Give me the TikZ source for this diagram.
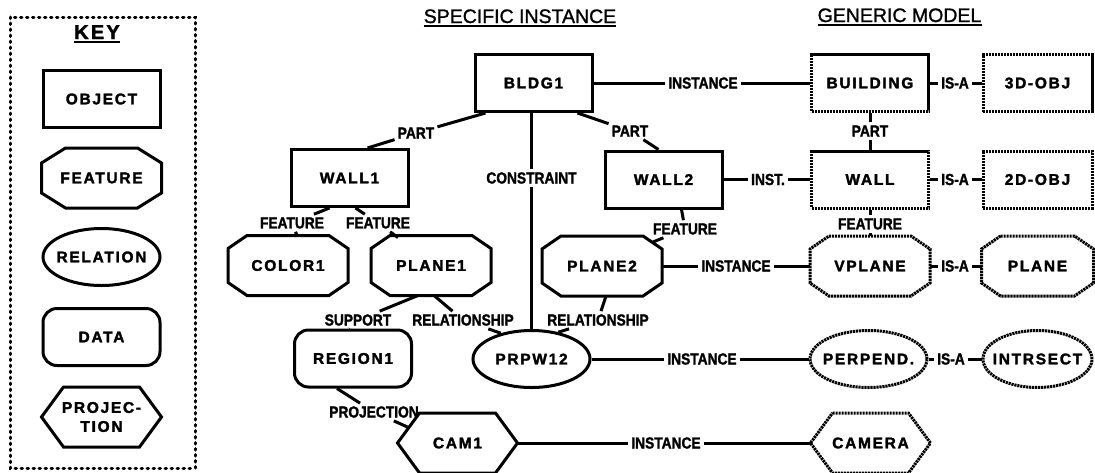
\documentclass[tikz,border=0pt]{standalone}
\usepackage{fontspec}
\usetikzlibrary{shapes.geometric}
\setmainfont{Liberation Sans}
\newfontfamily\nodefont{Liberation Sans}[LetterSpace=11,FakeBold=2]
\newfontfamily\lblfont{Liberation Sans}[FakeStretch=0.86,FakeBold=1.5]
\newfontfamily\titlefont{Liberation Sans}[FakeBold=1.2]
\newcommand\ctext[1]{\makebox[0pt]{#1}}
% octagon frame: [opts]{node}{x chamfer}{y chamfer}
\newcommand\octframe[4][]{\draw[line width=3pt,#1]
  ([xshift=#3pt]#2.north west) -- ([xshift=-#3pt]#2.north east) --
  ([yshift=-#4pt]#2.north east) -- ([yshift=#4pt]#2.south east) --
  ([xshift=-#3pt]#2.south east) -- ([xshift=#3pt]#2.south west) --
  ([yshift=#4pt]#2.south west) -- ([yshift=-#4pt]#2.north west) -- cycle;}
% hexagon frame: [opts]{node}
\newcommand\hexframe[2][]{\draw[line width=3pt,#1]
  ([xshift=22pt]#2.north west) -- ([xshift=-22pt]#2.north east) -- (#2.east) --
  ([xshift=-22pt]#2.south east) -- ([xshift=22pt]#2.south west) -- (#2.west) -- cycle;}
\begin{document}
\begin{tikzpicture}[x=1pt,y=-1pt,
  base/.style={rectangle, minimum width=117pt, minimum height=57pt, inner sep=0pt,
    font=\nodefont\bfseries\fontsize{15.5}{19}\selectfont, line width=3pt},
  obj/.style={base, draw},
  feat/.style={base},
  proj/.style={base},
  rel/.style={base, ellipse, draw},
  dat/.style={base, draw, rounded corners=14pt},
  gen/.style={dash pattern=on 2.2pt off 0.8pt},
  narrow/.style={minimum width=109pt},
  lbl/.style={font=\lblfont\bfseries\fontsize{16}{16}\selectfont, inner sep=3pt},
  conn/.style={line width=3pt},
  ttl/.style={font=\titlefont\fontsize{19.5}{20}\selectfont, inner sep=0pt, anchor=base},
  uline/.style={line width=1.8pt},
  keybox/.style={line width=3pt, dash pattern=on 1.5pt off 4.5pt, line cap=round}
]
\useasboundingbox (0,0) rectangle (1095,472);

% ---------------- KEY ----------------
\draw[keybox] (10,17) rectangle (195,468);
\node[ttl, font=\nodefont\bfseries\fontsize{20}{20}\selectfont] (keyt) at (97,39) {KEY};
\draw[uline] ([yshift=-3pt]keyt.base west) -- ([yshift=-3pt]keyt.base east);
\node[obj] (kobj) at (101.5,99) {OBJECT};
\node[feat] (kfeat) at (101.5,178) {FEATURE};
\octframe{kfeat}{24}{15}
\node[rel] (krel) at (101.5,257) {\ctext{RELATION}};
\node[dat] (kdat) at (101.5,337) {DATA};
\node[proj, align=center] (kproj) at (101.5,417) {PROJEC-\\TION};
\hexframe{kproj}

% ---------------- titles ----------------
\node[ttl] (spec) at (520,23) {SPECIFIC INSTANCE};
\draw[uline] ([yshift=-3pt]spec.base west) -- ([yshift=-3pt]spec.base east);
\node[ttl] (gener) at (899.5,22) {GENERIC MODEL};
\draw[uline] ([yshift=-3pt]gener.base west) -- ([yshift=-3pt]gener.base east);

% ---------------- specific instance ----------------
\node[obj] (bldg) at (533.5,83) {BLDG1};
\node[obj] (wall1) at (349.5,178) {WALL1};
\node[obj] (wall2) at (663.5,179.5) {WALL2};
\node[feat] (color1) at (288,265.5) {COLOR1};
\octframe{color1}{19}{13}
\node[feat] (plane1) at (431,265.5) {PLANE1};
\octframe{plane1}{19}{13}
\node[feat] (plane2) at (602,266) {PLANE2};
\octframe{plane2}{19}{13}
\node[dat] (region1) at (353,358.5) {REGION1};
\node[rel] (prpw12) at (531.5,359) {\ctext{PRPW12}};
\node[proj] (cam1) at (457.5,443) {CAM1};
\hexframe{cam1}

% ---------------- generic model ----------------
\node[obj, gen] (building) at (870,83) {BUILDING};
\node[obj, gen, narrow] (obj3d) at (1037.5,83) {3D-OBJ};
\node[obj, gen] (wall) at (870,179.5) {WALL};
\node[obj, gen, narrow] (obj2d) at (1037.5,179.5) {2D-OBJ};
\node[feat] (vplane) at (870,266) {VPLANE};
\octframe[gen]{vplane}{19}{13}
\node[feat, narrow] (plane) at (1037.5,266) {PLANE};
\octframe[gen]{plane}{19}{13}
\node[rel, gen] (perpend) at (868.5,359) {\ctext{PERPEND.}};
\node[rel, gen, narrow] (intrsect) at (1037.5,359) {\ctext{INTRSECT}};
\node[proj] (camera) at (870.5,443) {CAMERA};
\hexframe[gen]{camera}

% ---------------- connector labels ----------------
\node[lbl] (iTop) at (703,83) {INSTANCE};
\node[lbl] (isa1) at (955,83) {IS-A};
\node[lbl] (partG) at (870,131) {PART};
\node[lbl] (inst) at (768,179.5) {INST.};
\node[lbl] (isa2) at (955,179.5) {IS-A};
\node[lbl] (featG) at (870,224) {FEATURE};
\node[lbl] (inst2) at (736,266) {INSTANCE};
\node[lbl] (isa3) at (955,266) {IS-A};
\node[lbl] (inst3) at (702,359) {INSTANCE};
\node[lbl] (isa4) at (951,359) {IS-A};
\node[lbl] (inst4) at (666,443) {INSTANCE};
\node[lbl] (partL) at (416,133) {PART};
\node[lbl] (partR) at (630,131) {PART};
\node[lbl] (constr) at (531.5,178) {CONSTRAINT};
\node[lbl] (featA) at (292,223) {FEATURE};
\node[lbl] (featB) at (378,223) {FEATURE};
\node[lbl] (featC) at (685,229) {FEATURE};
\node[lbl] (supp) at (358,320) {SUPPORT};
\node[lbl] (relA) at (463,320) {RELATIONSHIP};
\node[lbl] (relB) at (598,320) {RELATIONSHIP};
\node[lbl] (projL) at (374,412) {PROJECTION};

% ---------------- connectors ----------------
\draw[conn] (bldg) -- (iTop) -- (building);
\draw[conn] (building) -- (isa1) -- (obj3d);
\draw[conn] (building) -- (partG) -- (wall);
\draw[conn] (wall2) -- (inst) -- (wall);
\draw[conn] (wall) -- (isa2) -- (obj2d);
\draw[conn] (wall) -- (featG) -- (vplane.north);
\draw[conn] (plane2.east) -- (inst2) -- (vplane.west);
\draw[conn] (vplane.east) -- (isa3) -- (plane.west);
\draw[conn] (prpw12) -- (inst3) -- (perpend);
\draw[conn] (perpend) -- (isa4) -- (intrsect);
\draw[conn] (cam1.east) -- (inst4) -- (camera.west);
\draw[conn] (bldg.south -| constr) -- (constr) -- (prpw12);
\draw[conn] ([xshift=12pt]bldg.south west) -- (partL) -- ([xshift=18pt]wall1.north);
\draw[conn] ([xshift=-16pt]bldg.south east) -- (partR) -- ([xshift=-5pt]wall2.north);
\draw[conn] ([xshift=-20pt]wall1.south) -- (featA) -- ([xshift=9pt]color1.north);
\draw[conn] ([xshift=6pt]wall1.south) -- (featB) -- ([xshift=-33pt,yshift=-2pt]plane1.north);
\draw[conn] ([xshift=18pt]wall2.south) -- (featC) -- ([xshift=-9pt,yshift=-6pt]plane2.north east);
\draw[conn] ([xshift=-13pt]plane1.south) -- (supp) -- ([xshift=-3pt]region1.north);
\draw[conn] ([xshift=3pt]plane1.south) -- (relA) -- (prpw12.140);
\draw[conn] ([xshift=4pt]plane2.south) -- (relB) -- (prpw12.45);
\draw[conn] ([xshift=-16pt]region1.south) -- (projL) -- ([xshift=10pt,yshift=-14pt]cam1.north west);
\end{tikzpicture}
\end{document}
